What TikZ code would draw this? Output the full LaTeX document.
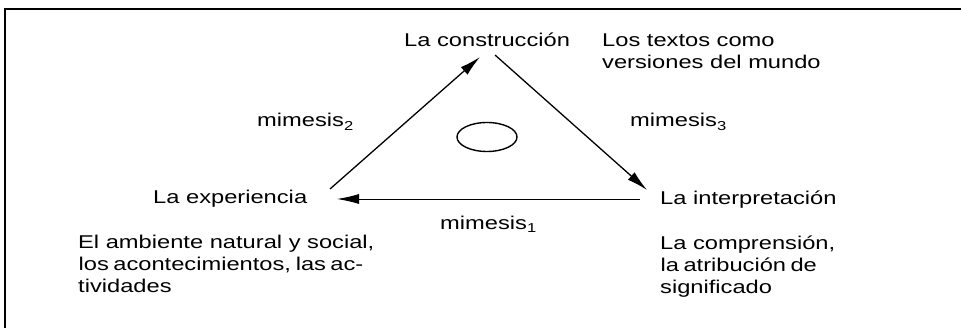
\documentclass[tikz,border=0pt]{standalone}
\usepackage{fontspec}
\setmainfont[FakeStretch=1.28]{Liberation Sans}
\usetikzlibrary{arrows.meta,shapes.geometric}
\newcommand\dfont{\fontsize{18.5pt}{22pt}\selectfont}
\newlength\lwleft
\newlength\lwright
\tikzset{
  lbl/.style={anchor=base west, inner sep=0pt, font=\dfont},
  conn/.style={line width=1.3pt},
  arr/.style={line width=1.3pt, -{Latex[length=21pt,width=10pt]}},
  harr/.style={line width=0.9pt, -{Latex[length=22pt,width=10pt]}},
}
\begin{document}
\begin{tikzpicture}[x=1pt,y=-1pt]
\useasboundingbox (0,0) rectangle (961,328);
\settowidth{\lwleft}{\dfont El ambiente natural y social,}
\settowidth{\lwright}{\dfont La comprensión,}
% frame
\draw[line width=2.6pt] (4,9) -- (961,9);
\draw[line width=1.4pt] (5,9) -- (5,328);
% main labels
\node[lbl] (con) at (404,47) {La construcción};
\node[lbl] (tex1) at (602,47) {Los textos como};
\node[lbl] (tex2) at (602,69) {versiones del mundo};
\node[lbl] (m2) at (257,127) {mimesis\textsubscript{2}};
\node[lbl] (m3) at (630,127) {mimesis\textsubscript{3}};
\node[lbl] (exp) at (153,204) {La experiencia};
\node[lbl] (int) at (660,205) {La interpretación};
\node[lbl] (m1) at (440,230) {mimesis\textsubscript{1}};
% left block
\node[lbl] (amb1) at (78,249) {El ambiente natural y social,};
\node[lbl] (amb2) at (78,271) {\makebox[\lwleft][s]{los acontecimientos, las ac-}};
\node[lbl] (amb3) at (78,293) {tividades};
% right block
\node[lbl] (com1) at (660,250) {La comprensión,};
\node[lbl] (com2) at (660,272) {\makebox[\lwright][s]{la atribución de}};
\node[lbl] (com3) at (660,294) {significado};
% ellipse
\node[ellipse, draw, line width=1.4pt, minimum width=60pt, minimum height=29pt, inner sep=0pt] (ell) at (487,137) {};
% connector ends
\coordinate (a1) at (330,189);
\coordinate (a2) at (480,57);
\coordinate (b1) at (495,55);
\coordinate (b2) at (647,190);
\coordinate (h1) at (640,199);
\coordinate (h2) at (337,199);
\draw[arr] (a1) -- (a2);
\draw[arr] (b1) -- (b2);
\draw[harr] (h1) -- (h2);
\end{tikzpicture}
\end{document}
